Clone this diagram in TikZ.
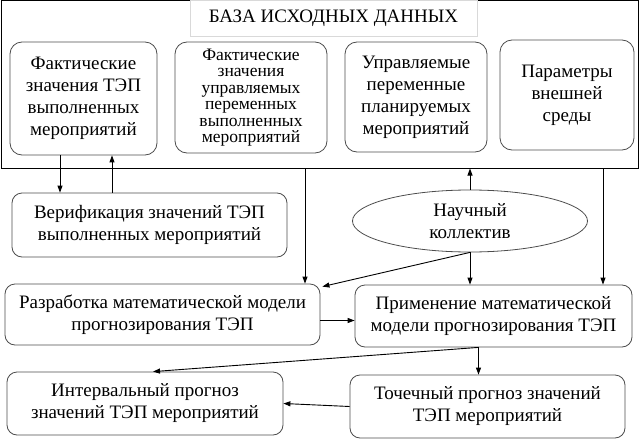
\documentclass[tikz,border=0pt]{standalone}
\usepackage{fontspec}
\setmainfont{Liberation Serif}
\usetikzlibrary{arrows.meta,shapes.geometric}
\tikzset{
  box/.style={draw=black!70, line width=0.8pt, rounded corners=12pt, align=center, inner sep=2pt},
  lbox/.style={draw=black!70, line width=0.8pt, rounded corners=10pt, align=center, inner sep=2pt},
  frame/.style={draw=black, line width=1pt, inner sep=0pt},
  ttl/.style={draw=black!15, line width=0.8pt, inner sep=0pt},
  oval/.style={ellipse, draw=black!70, line width=0.8pt, align=center, inner sep=0pt},
  arr/.style={draw=black, line width=0.9pt, -{Triangle[length=7pt,width=5pt]}},
  ln/.style={draw=black, line width=0.9pt},
  txt/.style={font=\fontsize{19}{22}\selectfont}
}
\begin{document}
\begin{tikzpicture}[x=1pt,y=-1pt]
\useasboundingbox (0,0) rectangle (641,442);
\node[frame, minimum width=637pt, minimum height=168pt] (base) at (319.5,84) {};
\node[ttl, minimum width=287pt, minimum height=36pt, txt] (title) at (333.5,18) {БАЗА ИСХОДНЫХ ДАННЫХ};
\node[box, txt, minimum width=147pt, minimum height=113pt] (b1) at (83.5,98.5) {Фактические\\значения ТЭП\\выполненных\\мероприятий};
\node[box, font=\fontsize{17.5}{16.5}\selectfont, minimum width=152pt, minimum height=111pt] (b2) at (251,97.5) {Фактические\\значения\\управляемых\\переменных\\выполненных\\мероприятий};
\node[box, txt, minimum width=142pt, minimum height=110pt] (b3) at (416,97) {Управляемые\\переменные\\планируемых\\мероприятий};
\node[box, txt, minimum width=134pt, minimum height=110pt] (b4) at (567,95) {Параметры\\внешней\\среды};
\node[lbox, txt, minimum width=275pt, minimum height=64pt] (verif) at (149.5,225) {Верификация значений ТЭП\\выполненных мероприятий};
\node[oval, txt, minimum width=235pt, minimum height=62pt] (team) at (470,221) {Научный\\коллектив};
\node[lbox, txt, minimum width=315pt, minimum height=61pt] (razr) at (162.5,314.5) {Разработка математической модели\\прогнозирования ТЭП};
\node[lbox, txt, minimum width=277pt, minimum height=62pt] (prim) at (493.5,316) {Применение математической\\модели прогнозирования ТЭП};
\node[lbox, txt, minimum width=276pt, minimum height=63pt] (intv) at (145,403.5) {Интервальный прогноз\\значений ТЭП мероприятий};
\node[lbox, txt, minimum width=275pt, minimum height=63pt] (toch) at (487.5,406.5) {Точечный прогноз значений\\ТЭП мероприятий};
\coordinate (cL) at (305,0);
\coordinate (cR) at (603,0);
% connectors
\draw[arr] ([xshift=-23.5pt]b1.south) -- ([xshift=-23.5pt]b1.south |- verif.north);
\draw[arr] ([xshift=28.5pt]b1.south |- verif.north) -- ([xshift=28.5pt]b1.south);
\draw[arr] (base.south -| cL) -- (razr.north -| cL);
\draw[arr] (team.north) -- (team.north |- base.south);
\draw[arr] (base.south -| cR) -- (prim.north -| cR);
\draw[arr] (team.south) -- (prim.north -| team.south);
\draw[arr] (team.south) -- ([xshift=2pt,yshift=-3pt]razr.north east);
\draw[arr] ([yshift=-6pt]razr.east) -- ([yshift=-6pt]razr.east -| prim.west);
\draw[arr] ([xshift=-15pt]prim.south) -- ([xshift=-15pt]prim.south |- toch.north);
\draw[arr] ([xshift=-15pt]prim.south) -- ([xshift=8pt]intv.north);
\draw[arr] (toch.west) -- (intv.east);
\end{tikzpicture}
\end{document}
